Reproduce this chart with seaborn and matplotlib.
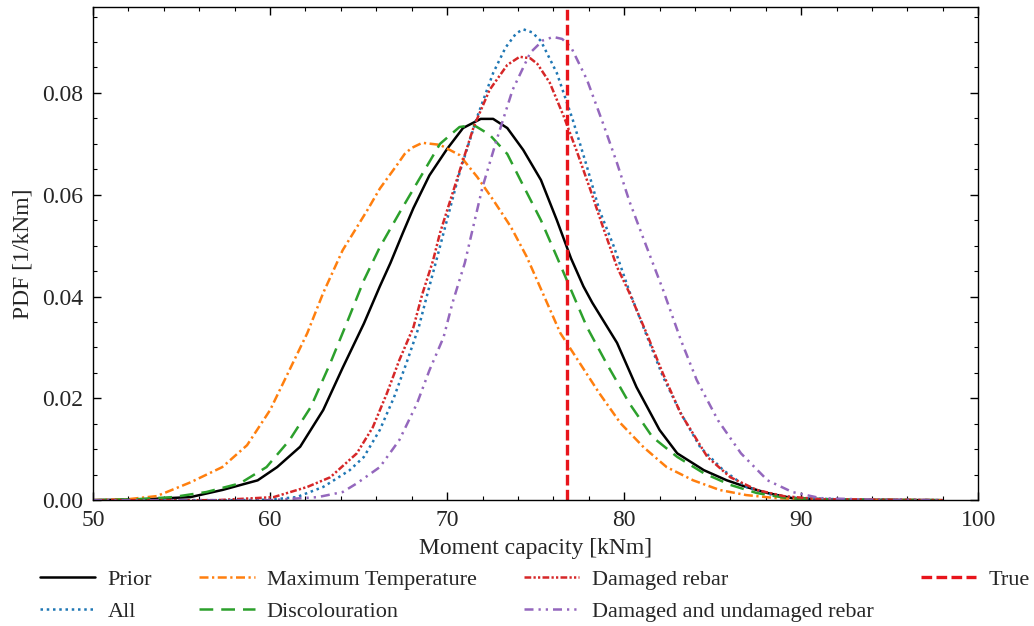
import numpy as np
import pandas as pd
import matplotlib
matplotlib.use("Agg")
import matplotlib.pyplot as plt
from matplotlib.ticker import MultipleLocator, FormatStrFormatter
import seaborn as sns

# points: moment capacity [kNm] and PDF [1/kNm]
prior_x = [50, 53, 55.5, 57.3, 59.3, 60.4, 61.7, 63.0, 64.1, 65.3, 66.2, 66.8, 67.5, 68.1,
           69.0, 70.0, 70.9, 71.9, 72.6, 73.4, 74.3, 75.3, 76.2, 77.0, 77.7, 78.2, 79.6,
           80.7, 82.0, 83.0, 84.5, 85.8, 86.9, 88.1, 89.5, 92, 98]
prior_y = [0.0, 0.0002, 0.0006, 0.0020, 0.0039, 0.0065, 0.0105, 0.0177, 0.0260, 0.0347,
           0.0420, 0.0466, 0.0525, 0.0574, 0.0638, 0.0690, 0.0731, 0.0749, 0.0749, 0.0731,
           0.0688, 0.0629, 0.0550, 0.0475, 0.0420, 0.0388, 0.0309, 0.0222, 0.0138, 0.0092,
           0.0059, 0.0039, 0.0026, 0.0014, 0.0004, 0.0001, 0.0]

maxtemp_x = [50, 52, 53.6, 55.5, 57.3, 58.7, 60.0, 61.1, 62.1, 63.0, 64.1, 65.5, 66.2, 67.2,
             67.6, 68.0, 68.6, 69.6, 70.7, 71.7, 72.6, 73.6, 74.5, 75.4, 76.4, 77.5, 78.6,
             79.8, 81.1, 82.4, 83.9, 85.4, 86.9, 88.6, 91, 98]
maxtemp_y = [0.0, 0.0002, 0.0008, 0.0035, 0.0065, 0.0108, 0.0177, 0.0256, 0.0328, 0.0407,
             0.0491, 0.0570, 0.0612, 0.0660, 0.0680, 0.0692, 0.0702, 0.0698, 0.0678, 0.0635,
             0.0590, 0.0537, 0.0478, 0.0407, 0.0328, 0.0269, 0.0210, 0.0151, 0.0104, 0.0065,
             0.0039, 0.0020, 0.0010, 0.0004, 0.0001, 0.0]

all_x = [50, 58, 60, 61.5, 63.0, 63.6, 64.5, 65.3, 66.2, 67.0, 67.7, 68.4, 68.9, 69.4, 69.8,
         70.7, 71.7, 72.6, 73.3, 73.9, 74.3, 74.8, 75.3, 76.2, 77.1, 77.9, 78.6, 79.4, 80.3,
         81.3, 82.2, 83.2, 84.3, 85.6, 86.9, 88.4, 89.9, 93, 98]
all_y = [0.0, 0.0, 0.0001, 0.0006, 0.0026, 0.0039, 0.0059, 0.0085, 0.0138, 0.0202, 0.0269,
         0.0340, 0.0407, 0.0472, 0.0525, 0.0643, 0.0753, 0.0839, 0.0889, 0.0917, 0.0925,
         0.0919, 0.0902, 0.0839, 0.0747, 0.0655, 0.0570, 0.0500, 0.0410, 0.0321, 0.0242,
         0.0171, 0.0104, 0.0059, 0.0026, 0.0010, 0.0004, 0.0001, 0.0]

disc_x = [50, 52.5, 54.5, 56.4, 58.3, 59.8, 61.1, 62.3, 63.4, 64.4, 65.3, 66.2, 67.3, 68.5,
          69.6, 70.7, 71.5, 72.4, 73.4, 74.3, 75.3, 76.2, 77.0, 77.9, 79.0, 80.3, 81.6,
          83.0, 84.5, 86.0, 87.5, 89.2, 92, 98]
disc_y = [0.0, 0.0002, 0.0006, 0.0016, 0.0033, 0.0065, 0.0118, 0.0183, 0.0269, 0.0354,
          0.0432, 0.0497, 0.0564, 0.0635, 0.0700, 0.0733, 0.0737, 0.0718, 0.0680, 0.0618,
          0.0550, 0.0478, 0.0413, 0.0340, 0.0269, 0.0190, 0.0124, 0.0085, 0.0053, 0.0030,
          0.0014, 0.0004, 0.0001, 0.0]

dam_x = [50, 57, 60.2, 62.1, 63.4, 64.9, 65.8, 66.6, 67.3, 68.1, 68.6, 69.2, 69.6, 70.6,
         71.5, 72.4, 73.4, 74.1, 74.7, 75.1, 75.8, 76.6, 77.3, 78.1, 78.8, 79.6, 80.3, 81.3,
         82.2, 83.2, 84.7, 86.0, 87.5, 89.0, 91, 98]
dam_y = [0.0, 0.0, 0.0006, 0.0026, 0.0045, 0.0092, 0.0143, 0.0210, 0.0275, 0.0340, 0.0405,
         0.0470, 0.0525, 0.0635, 0.0733, 0.0806, 0.0855, 0.0871, 0.0868, 0.0857, 0.0820,
         0.0753, 0.0688, 0.0609, 0.0537, 0.0458, 0.0407, 0.0325, 0.0248, 0.0170, 0.0085,
         0.0045, 0.0020, 0.0008, 0.0002, 0.0]

damund_x = [50, 60, 62.7, 64.1, 64.9, 66.2, 67.3, 68.3, 69.0, 69.8, 70.3, 71.0, 71.3, 72.0,
            72.8, 73.7, 74.7, 75.4, 76.0, 76.5, 77.0, 77.9, 78.8, 79.6, 80.3, 81.2, 82.2,
            83.2, 84.1, 85.3, 86.6, 88.1, 89.5, 91.1, 94, 98]
damund_y = [0.0, 0.0, 0.0006, 0.0016, 0.0033, 0.0065, 0.0118, 0.0190, 0.0255, 0.0320,
            0.0387, 0.0466, 0.0511, 0.0615, 0.0708, 0.0806, 0.0879, 0.0903, 0.0910, 0.0906,
            0.0890, 0.0826, 0.0741, 0.0662, 0.0587, 0.0504, 0.0413, 0.0315, 0.0236, 0.0157,
            0.0092, 0.0039, 0.0016, 0.0004, 0.0001, 0.0]

true_value = 76.8

series = [
    ("Prior", prior_x, prior_y, "black", "-"),
    ("All", all_x, all_y, "#1f77b4", (0, (1, 1.5))),
    ("Maximum Temperature", maxtemp_x, maxtemp_y, "#ff7f0e", (0, (3.6, 1.4, 0.9, 1.4))),
    ("Discolouration", disc_x, disc_y, "#2ca02c", (0, (5.5, 3.2))),
    ("Damaged rebar", dam_x, dam_y, "#d62728", (0, (2.7, 0.9, 0.9, 0.9, 0.9, 0.9))),
    ("Damaged and undamaged rebar", damund_x, damund_y, "#9467bd",
     (0, (3.6, 2.0, 0.9, 2.0, 0.9, 2.0))),
]

sns.set_theme(style="ticks")
plt.rcParams["font.family"] = ["Liberation Serif", "DejaVu Serif"]

fig = plt.figure(figsize=(10.34, 6.26), dpi=100)
ax = fig.add_axes([0.09, 0.201, 0.856, 0.788])

for name, xs, ys, c, ls in series:
    sns.lineplot(x=xs, y=ys, ax=ax, color=c, linestyle=ls, linewidth=1.8, label=name)

ax.axvline(true_value, color="#e8141b", linestyle=(0, (3.2, 1.3)), linewidth=2.4, label="True")

ax.set_xlim(50, 100)
ax.set_ylim(0, 0.0969)
ax.xaxis.set_major_locator(MultipleLocator(10))
ax.xaxis.set_minor_locator(MultipleLocator(2))
ax.yaxis.set_major_locator(MultipleLocator(0.02))
ax.yaxis.set_minor_locator(MultipleLocator(0.005))
ax.yaxis.set_major_formatter(FormatStrFormatter("%.2f"))
ax.tick_params(which="both", direction="in", top=True, right=True, labelsize=17, color="black")
ax.tick_params(which="major", length=6, width=1)
ax.tick_params(which="minor", length=3, width=0.8)
ax.tick_params(axis="x", pad=7)
ax.tick_params(axis="y", pad=7)
for sp in ax.spines.values():
    sp.set_color("black")
    sp.set_linewidth(1)

ax.set_xlabel("Moment capacity [kNm]", fontsize=17, labelpad=5)
ax.set_ylabel("PDF [1/kNm]", fontsize=17, labelpad=6)

handles, labels = ax.get_legend_handles_labels()
ax.get_legend().remove()
fig.legend(handles, labels, ncol=4, loc="lower left", mode="expand",
           bbox_to_anchor=(0.034, 0.0, 0.966, 0.1), frameon=False, fontsize=16,
           handlelength=2.5, handletextpad=0.55, borderaxespad=0.0, borderpad=0.2,
           labelspacing=0.5)

fig.savefig("out.png", dpi=100)
